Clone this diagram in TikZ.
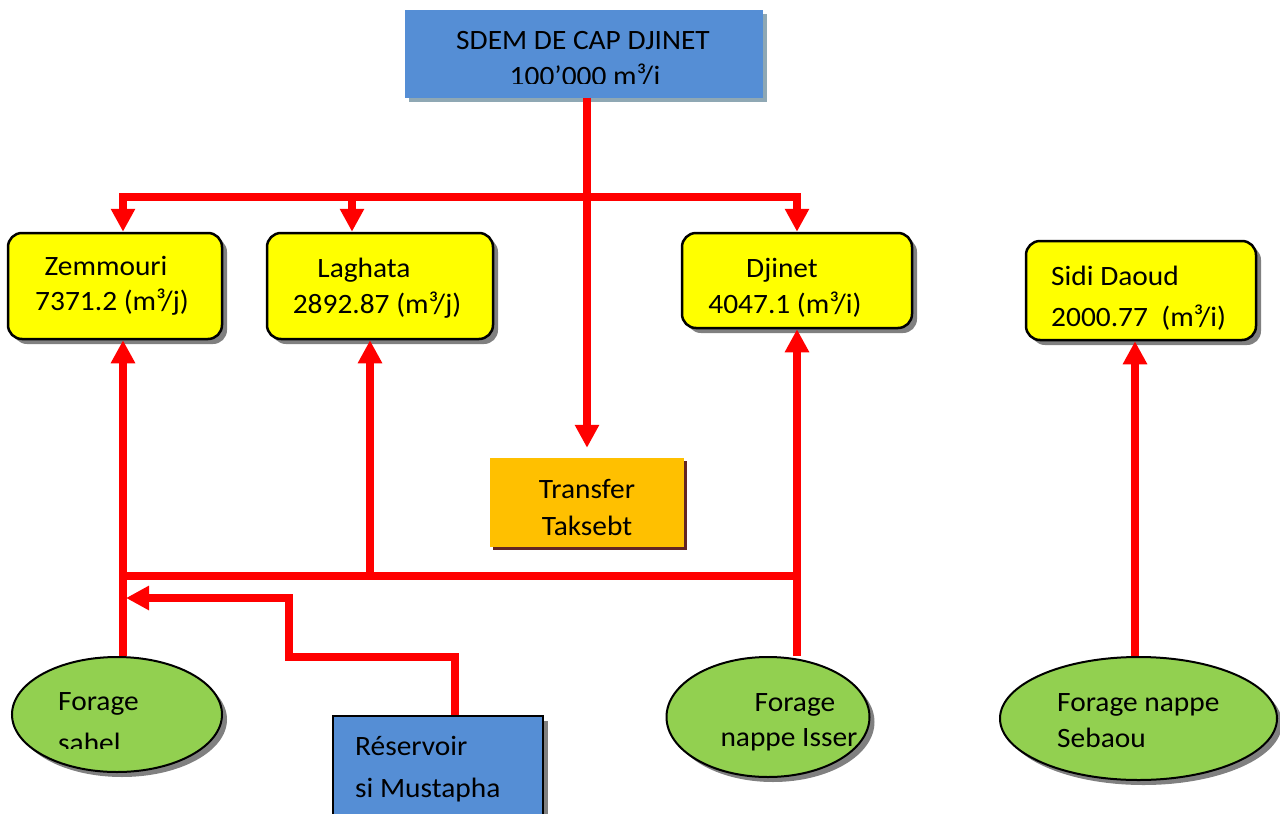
\documentclass[tikz,border=0pt]{standalone}
\usepackage{fontspec}
\setmainfont[FakeStretch=1.05]{Carlito}
\usetikzlibrary{arrows.meta,shapes.geometric,shadows}
\definecolor{pipered}{HTML}{FF0000}
\definecolor{boxyellow}{HTML}{FFFF00}
\definecolor{boxblue}{HTML}{558ED5}
\definecolor{boxorange}{HTML}{FFC000}
\definecolor{boxgreen}{HTML}{92D050}
\definecolor{shadowgray}{HTML}{808080}
\definecolor{shadowblue}{HTML}{8FA8B4}
\definecolor{shadowbrown}{HTML}{632523}
\tikzset{
  pipe/.style={draw=pipered, line width=8.5pt},
  arr/.style={-{Triangle[width=23pt,length=23pt]}},
  gshadow/.style={drop shadow={shadow xshift=5pt,shadow yshift=-5pt,fill=shadowgray,opacity=1}},
  ybox/.style={rectangle, draw=black, line width=2.5pt, fill=boxyellow, rounded corners=14pt, inner sep=0pt, gshadow},
  bbox/.style={rectangle, draw=black, line width=2.5pt, fill=boxblue, inner sep=0pt, gshadow},
  topbox/.style={rectangle, fill=boxblue, inner sep=0pt, drop shadow={shadow xshift=4pt,shadow yshift=-4pt,fill=shadowblue,opacity=1}},
  obox/.style={rectangle, fill=boxorange, inner sep=0pt, drop shadow={shadow xshift=3pt,shadow yshift=-3pt,fill=shadowbrown,opacity=1}},
  gell/.style={ellipse, draw=black, line width=2pt, fill=boxgreen, inner sep=0pt, gshadow},
  lbl/.style={font=\fontsize{28}{33}\selectfont, inner sep=0pt, anchor=base},
  lblw/.style={lbl, anchor=base west}
}
\begin{document}
\begin{tikzpicture}[x=1pt,y=-1pt]
\useasboundingbox (0,0) rectangle (1280,814);
% shapes
\node[topbox, minimum width=358pt, minimum height=88pt] (sdem) at (584,53.5) {};
\node[ybox, minimum width=214pt, minimum height=106pt] (zem) at (115,286) {};
\node[ybox, minimum width=226pt, minimum height=106pt] (lag) at (380,286) {};
\node[ybox, minimum width=230pt, minimum height=95pt] (dji) at (797,280.5) {};
\node[ybox, minimum width=230pt, minimum height=99pt] (sidi) at (1141,290.5) {};
\node[obox, minimum width=194pt, minimum height=89pt] (trans) at (587,502.5) {};
\node[gell, minimum width=210pt, minimum height=115pt] (sahel) at (117,714.5) {};
\node[gell, minimum width=203pt, minimum height=120pt] (isser) at (768,717) {};
\node[gell, minimum width=277pt, minimum height=123pt] (seb) at (1138.5,718.5) {};
\node[bbox, minimum width=210pt, minimum height=114pt] (res) at (438,773) {};
% texts
\begin{scope}
\clip (405,9) rectangle (763,83);
\node[lbl] (sdemA) at (583,49) {SDEM DE CAP DJINET};
\node[lbl] (sdemB) at (585,85) {100’000 m³/j};
\end{scope}
\node[lbl] (zemA) at (106,275) {Zemmouri};
\node[lbl] (zemB) at (112,310) {7371.2 (m³/j)};
\node[lbl] (lagA) at (364,277) {Laghata};
\node[lbl] (lagB) at (377,313) {2892.87 (m³/j)};
\node[lbl] (djiA) at (782,277) {Djinet};
\node[lbl] (djiB) at (785,313) {4047.1 (m³/i)};
\node[lblw] (sidiA) at (1051,285) {Sidi Daoud};
\node[lblw] (sidiB) at (1051,326) {2000.77~ (m³/i)};
\node[lbl] (transA) at (587,498) {Transfer};
\node[lbl] (transB) at (587,535) {Taksebt};
\begin{scope}
\clip (20,660) rectangle (220,748);
\node[lblw] (sahelA) at (58,710) {Forage};
\node[lblw] (sahelB) at (58,752) {sahel};
\end{scope}
\node[lbl] (isserA) at (795,711) {Forage};
\node[lbl] (isserB) at (789,746) {nappe Isser};
\node[lblw] (sebA) at (1057,711) {Forage nappe};
\node[lblw] (sebB) at (1057,747) {Sebaou};
\node[lblw] (resA) at (355,755) {Réservoir};
\node[lblw] (resB) at (355,797) {si Mustapha};
% connectors
\coordinate (hub) at (587,197);
\draw[pipe,arr,shorten >=10pt] (trans.north |- sdem.south) -- (trans.north);
\draw[pipe,arr] (hub) -| ([xshift=8pt]zem.north);
\draw[pipe,arr] (hub) -| ([xshift=-28pt]lag.north);
\draw[pipe,arr] (hub) -| (dji.north);
\coordinate (busL) at (123,576);
\coordinate (busR) at (797,576);
\draw[pipe] (busL) -- (busR);
\draw[pipe,arr] ([xshift=6pt]sahel.north) -- ([xshift=8pt]zem.south);
\draw[pipe,arr] ([xshift=-10pt]lag.south |- busL) -- ([xshift=-10pt]lag.south);
\draw[pipe,arr] (dji.south |- isser.north) -- (dji.south);
\draw[pipe,arr] ([xshift=-6pt]sidi.south |- seb.north) -- ([xshift=-6pt]sidi.south);
\coordinate (resbend) at (289,657);
\coordinate (join) at (126,598);
\draw[pipe,arr] ([xshift=17pt]res.north) |- (resbend) |- (join);
\end{tikzpicture}
\end{document}
